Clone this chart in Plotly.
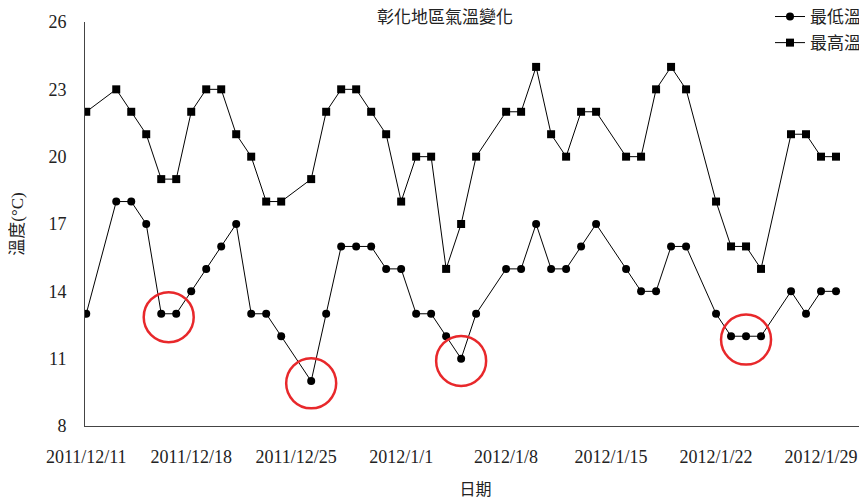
import plotly.graph_objects as go

# 日期（缺測日略過）
dates = [
    "2011-12-11", "2011-12-13", "2011-12-14", "2011-12-15", "2011-12-16",
    "2011-12-17", "2011-12-18", "2011-12-19", "2011-12-20", "2011-12-21",
    "2011-12-22", "2011-12-23", "2011-12-24", "2011-12-26", "2011-12-27",
    "2011-12-28", "2011-12-29", "2011-12-30", "2011-12-31", "2012-01-01",
    "2012-01-02", "2012-01-03", "2012-01-04", "2012-01-05", "2012-01-06",
    "2012-01-08", "2012-01-09", "2012-01-10", "2012-01-11", "2012-01-12",
    "2012-01-13", "2012-01-14", "2012-01-16", "2012-01-17", "2012-01-18",
    "2012-01-19", "2012-01-20", "2012-01-22", "2012-01-23", "2012-01-24",
    "2012-01-25", "2012-01-27", "2012-01-28", "2012-01-29", "2012-01-30",
]
t_min = [13, 18, 18, 17, 13, 13, 14, 15, 16, 17,
         13, 13, 12, 10, 13, 16, 16, 16, 15, 15,
         13, 13, 12, 11, 13, 15, 15, 17, 15, 15,
         16, 17, 15, 14, 14, 16, 16, 13, 12, 12,
         12, 14, 13, 14, 14]
t_max = [22, 23, 22, 21, 19, 19, 22, 23, 23, 21,
         20, 18, 18, 19, 22, 23, 23, 22, 21, 18,
         20, 20, 15, 17, 20, 22, 22, 24, 21, 20,
         22, 22, 20, 20, 23, 24, 23, 18, 16, 16,
         15, 21, 21, 20, 20]

tick_dates = ["2011-12-11", "2011-12-18", "2011-12-25", "2012-01-01",
              "2012-01-08", "2012-01-15", "2012-01-22", "2012-01-29"]
tick_text = ["2011/12/11", "2011/12/18", "2011/12/25", "2012/1/1",
             "2012/1/8", "2012/1/15", "2012/1/22", "2012/1/29"]

# 紅圈標示的低溫點
mark_x = ["2011-12-16 12:00", "2011-12-26", "2012-01-05", "2012-01-24"]
mark_y = [12.85, 9.9, 10.9, 11.85]

FONT = "Liberation Serif, Noto Sans CJK TC, serif"

# 頁面 body 預設有 8px 外距，圖的尺寸與邊距扣掉這部分
W, H = 859, 493

fig = go.Figure()

fig.add_trace(go.Scatter(
    x=dates, y=t_min, name="最低溫", mode="lines+markers",
    line=dict(color="black", width=1),
    marker=dict(symbol="circle", size=8, color="black"),
    legendgroup="min"
))
fig.add_trace(go.Scatter(
    x=dates, y=t_max, name="最高溫", mode="lines+markers",
    line=dict(color="black", width=1),
    marker=dict(symbol="square", size=8, color="black"),
    legendgroup="max"
))

for mx, my in zip(mark_x, mark_y):
    fig.add_shape(
        type="circle", xref="x", yref="y",
        xsizemode="pixel", ysizemode="pixel",
        xanchor=mx, yanchor=my,
        x0=-25, x1=25, y0=-25, y1=25,
        line=dict(color="#e8282b", width=2.5)
    )

fig.update_layout(
    width=W, height=H,
    margin=dict(l=77, r=1, t=14, b=75, autoexpand=False),
    paper_bgcolor="white", plot_bgcolor="white",
    font=dict(family=FONT, size=17, color="#222"),
    title=dict(text="彰化地區氣溫變化", x=437 / W, xanchor="center",
               y=1 - 9 / H, yanchor="middle", xref="container", yref="container",
               font=dict(size=17, family=FONT)),
    legend=dict(x=1, xanchor="right", y=1.057, yanchor="top",
                font=dict(size=17), tracegroupgap=1, bgcolor="rgba(0,0,0,0)"),
    showlegend=True,
)

fig.update_xaxes(
    type="date", range=["2011-12-10 22:00", "2012-02-01"],
    tickvals=tick_dates, ticktext=tick_text,
    showgrid=False, zeroline=False, showline=True, automargin=False,
    linecolor="#444", linewidth=1, ticks="", ticklabelstandoff=14,
    tickfont=dict(size=18),
    title=dict(text="日期", standoff=18, font=dict(size=16))
)
fig.update_yaxes(
    range=[8, 26], tick0=8, dtick=3,
    showgrid=False, zeroline=False, showline=True, automargin=False,
    linecolor="#444", linewidth=1, ticks="", ticklabelstandoff=14,
    tickfont=dict(size=18),
    title=dict(text="溫度(°C)", standoff=20, font=dict(size=17))
)

fig.write_html("out.html")
